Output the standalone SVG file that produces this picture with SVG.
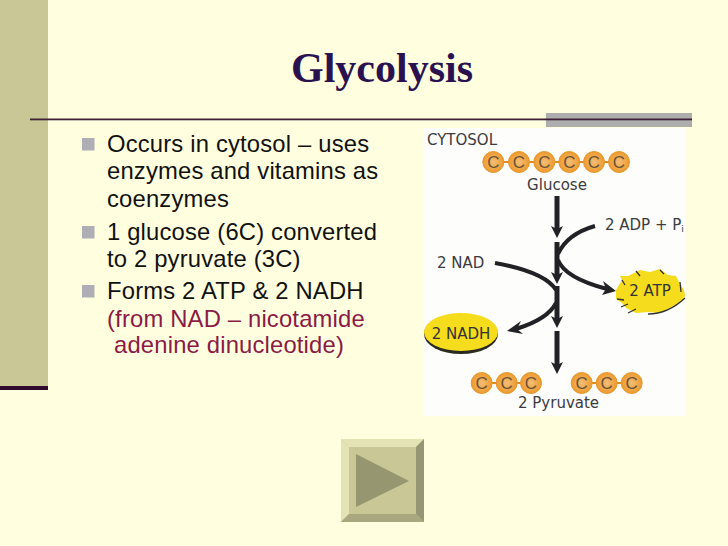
<svg xmlns="http://www.w3.org/2000/svg" width="728" height="546" viewBox="0 0 728 546">
<defs>
<style>
.body{font-family:"Liberation Sans",Arial,sans-serif;font-size:23.800px;letter-spacing:.18px;fill:#111}
.red{fill:#8b1a45}
.lab{font-family:"DejaVu Sans","Liberation Sans",sans-serif;fill:#3b3b40;font-size:15px}
.ct{font-family:"Liberation Sans",Arial,sans-serif;font-size:17px;fill:#6b5335;text-anchor:middle}
.v{fill:none;stroke:#222226;stroke-width:5}
.c{fill:none;stroke:#222226;stroke-width:4}
.h{fill:#222226}
.bul{fill:#aeaeb4}
.b{fill:url(#cg);stroke:#e8982c}
</style>
<radialGradient id="cg"><stop offset="0" stop-color="#f3bd78"/><stop offset="0.7" stop-color="#f0a544"/><stop offset="1" stop-color="#ea9a2c"/></radialGradient>
</defs>
<rect width="728" height="546" fill="#ffffe0"/>
<g id="frame">
<rect x="0" y="0" width="48" height="386" fill="#c9c795"/>
<rect x="0" y="386" width="48" height="4" fill="#2d0a2e"/>
<rect x="546" y="113" width="146" height="14" fill="#adadad"/>
<rect x="30" y="118.500" width="662" height="1.800" fill="#3e2137"/>
</g>
<g id="title"><text x="382" y="82" text-anchor="middle" font-family="Liberation Serif,serif" font-weight="bold" font-size="42" fill="#2a1250">Glycolysis</text></g>
<g id="bullets">
<rect class="bul" x="82" y="138" width="12.500" height="12.500"/>
<rect class="bul" x="82" y="226" width="12.500" height="12.500"/>
<rect class="bul" x="82" y="285" width="12.500" height="12.500"/>
<text class="body" x="107" y="152">Occurs in cytosol – uses</text>
<text class="body" x="107" y="179">enzymes and vitamins as</text>
<text class="body" x="107" y="207">coenzymes</text>
<text class="body" x="107" y="240">1 glucose (6C) converted</text>
<text class="body" x="107" y="267">to 2 pyruvate (3C)</text>
<text class="body" x="107" y="299">Forms 2 ATP &amp; 2 NADH</text>
<text class="body red" x="107" y="327">(from NAD – nicotamide</text>
<text class="body red" x="114" y="353">adenine dinucleotide)</text>
</g>
<g id="figure">
<rect x="423" y="128" width="263" height="288" fill="#fdfdfb"/>
<text class="lab" x="427" y="145">CYTOSOL</text>
<text class="lab" x="557" y="190" text-anchor="middle">Glucose</text>
<text class="lab" x="605" y="230">2 ADP + P<tspan font-size="9" dy="2">i</tspan></text>
<text class="lab" x="437" y="268">2 NAD</text>
<text class="lab" x="518" y="408">2 Pyruvate</text>
</g>
<g id="glucose">
<line x1="493" y1="162" x2="619" y2="162" stroke="#e08a20" stroke-width="2"/>
<circle class="b" cx="493.300" cy="162" r="10.500"/><text class="ct" x="493.300" y="168">C</text>
<circle class="b" cx="519" cy="162" r="10.500"/><text class="ct" x="519" y="168">C</text>
<circle class="b" cx="544.300" cy="162" r="10.500"/><text class="ct" x="544.300" y="168">C</text>
<circle class="b" cx="569.300" cy="162" r="10.500"/><text class="ct" x="569.300" y="168">C</text>
<circle class="b" cx="594" cy="162" r="10.500"/><text class="ct" x="594" y="168">C</text>
<circle class="b" cx="619" cy="162" r="10.500"/><text class="ct" x="619" y="168">C</text>
</g>
<g id="pyruvate-1">
<line x1="482" y1="383" x2="531" y2="383" stroke="#e08a20" stroke-width="2"/>
<circle class="b" cx="481.700" cy="383" r="10.500"/><text class="ct" x="481.700" y="389">C</text>
<circle class="b" cx="506.700" cy="383" r="10.500"/><text class="ct" x="506.700" y="389">C</text>
<circle class="b" cx="531" cy="383" r="10.500"/><text class="ct" x="531" y="389">C</text>
</g>
<g id="pyruvate-2">
<line x1="582" y1="383" x2="632" y2="383" stroke="#e08a20" stroke-width="2"/>
<circle class="b" cx="581.700" cy="383" r="10.500"/><text class="ct" x="581.700" y="389">C</text>
<circle class="b" cx="606.700" cy="383" r="10.500"/><text class="ct" x="606.700" y="389">C</text>
<circle class="b" cx="631.700" cy="383" r="10.500"/><text class="ct" x="631.700" y="389">C</text>
</g>
<g id="atp">
<path d="M616 290 L622 280 L620 276 L628 276 L640 270 L650 272 L660 269 L668 275 L676 276 L680 284 L684 290 L685 296 L680 303 L672 307 L660 313 L648 312 L636 313 L626 308 L622 303 L616 299 Z" fill="#f5dc1c"/>
<path d="M617 299 L624 300 M621 307 L628 304 M628 313 L636 309 M648 314 Q668 314 685 298 M680 282 L681 292 M622 280 L625 285 M636 271 L640 276 M660 270 L664 274" fill="none" stroke="#333" stroke-width="1.300"/>
<text x="650" y="296" text-anchor="middle" font-family="DejaVu Sans,sans-serif" font-size="15" fill="#333">2 ATP</text>
</g>
<g id="nadh">
<ellipse cx="461" cy="334" rx="37" ry="20" fill="#2a2a20"/>
<ellipse cx="461" cy="332" rx="37" ry="19" fill="#f5dc1c"/>
<text x="461" y="339" text-anchor="middle" font-family="DejaVu Sans,sans-serif" font-size="15" fill="#333">2 NADH</text>
</g>
<g id="connectors">
<path class="v" d="M557 196V229"/><path class="h" d="M551 226L557 238L563 226L557 229Z"/>
<path class="v" d="M557 242V275"/><path class="h" d="M551 272L557 284L563 272L557 275Z"/>
<path class="v" d="M557 286V319"/><path class="h" d="M551 316L557 328L563 316L557 319Z"/>
<path class="v" d="M557 331V365"/><path class="h" d="M551 362L557 374L563 362L557 365Z"/>
<path class="c" d="M595 226Q567 234 558 254"/>
<path class="c" d="M558 260Q565 278 607 289"/><path class="h" d="M603 281L616 291L602 295L606 289Z"/>
<path class="c" d="M495 263Q545 272 556 290"/>
<path class="c" d="M556 303Q548 319 516 329"/><path class="h" d="M521 321L507 331L523 334L517 329Z"/>
</g>
<g id="next-button">
<rect x="341" y="439" width="83" height="83" fill="#c9c795"/>
<polygon points="341,439 424,439 416,447 349,447" fill="#e4e3b6"/>
<polygon points="341,439 349,447 349,514 341,522" fill="#e4e3b6"/>
<polygon points="424,439 424,522 416,514 416,447" fill="#969674"/>
<polygon points="341,522 349,514 416,514 424,522" fill="#a8a780"/>
<polygon points="356,454 409,481 356,507" fill="#969671"/>
</g>
</svg>
